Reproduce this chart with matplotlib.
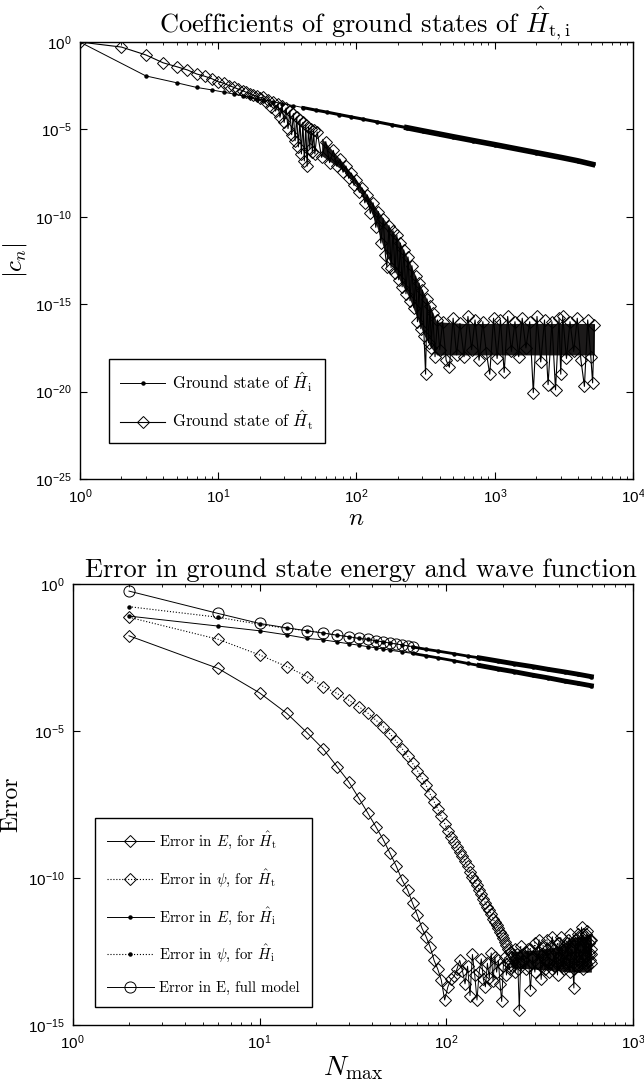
import numpy as np
import matplotlib
matplotlib.use("Agg")
import matplotlib.pyplot as plt
from matplotlib.ticker import LogLocator, NullLocator

plt.rcParams['font.family'] = 'sans-serif'
plt.rcParams['font.sans-serif'] = ['Liberation Sans', 'DejaVu Sans']
plt.rcParams['mathtext.fontset'] = 'cm'

# ---------------- top panel: coefficients |c_n| (log10 values) ----------------
hi_n = [1, 3, 5, 7, 9, 11, 13, 15, 17, 19, 21, 25, 29, 35, 41, 51, 61, 75, 91, 111, 141, 181,
        231, 301, 401, 501, 701, 1001, 1501, 2001, 3001, 4001, 5101]
hi_logc = [0.0, -1.94, -2.33, -2.6, -2.74, -2.87, -2.98, -3.08, -3.16, -3.24, -3.30, -3.42, -3.52,
           -3.64, -3.75, -3.90, -4.01, -4.15, -4.28, -4.41, -4.57, -4.74, -4.90, -5.08, -5.27,
           -5.42, -5.64, -5.87, -6.14, -6.33, -6.60, -6.80, -7.0]

# H_t coefficients: smooth head, alternating band, noise floor
ht_head_n = list(range(1, 51))
ht_head_logc = [0.0, -0.29, -0.74, -1.19, -1.41, -1.6, -1.83, -1.96, -2.1, -2.27,
                -2.36, -2.5, -2.59, -2.7, -2.78, -2.88, -2.95, -3.05, -3.1, -3.2,
                -3.15, -3.45, -3.3, -3.7, -3.45, -3.95, -3.55, -4.3, -3.68, -4.6,
                -3.78, -4.95, -3.95, -5.3, -4.1, -5.65, -4.3, -6.0, -4.45, -6.4,
                -4.6, -6.8, -4.72, -7.1, -4.85, -6.1, -4.95, -6.3, -5.05, -6.4]
ht_band_n = [52, 56, 60, 64, 68, 72, 76, 80, 84, 88, 92, 96, 100,
             105, 110, 115, 120, 126, 132, 138, 144, 150, 156, 162, 166,
             172, 178, 184, 190, 196, 202, 208, 214, 220, 228, 236, 244, 252, 260, 268, 276,
             284, 292, 300, 308, 316, 324, 332, 340, 348, 356]
ht_band_logc = [-5.15, -6.6, -5.7, -6.9, -6.2, -7.1, -6.7, -7.45, -7.1, -7.8, -7.5, -8.2, -7.9,
                -8.6, -8.35, -9.2, -8.75, -9.8, -9.2, -10.6, -9.7, -11.5, -10.1, -12.2, -12.86,
                -10.5, -12.9, -10.8, -13.2, -11.05, -13.6, -11.5, -14.0, -11.9, -14.4, -12.3, -14.8, -12.8, -15.2, -13.4, -16.0,
                -13.8, -16.4, -14.2, -16.8, -19.0, -14.7, -17.2, -15.1, -17.5, -15.5]
ht_floor_n = [370, 385, 400, 420, 445, 470, 500, 530, 560, 600, 640, 680,
              720, 770, 820, 870, 920, 980, 1040, 1100, 1170, 1240, 1320, 1400,
              1490, 1580, 1680, 1790, 1900, 2020, 2150, 2290, 2430, 2590, 2750, 2920,
              3000, 3100, 3300, 3500, 3720, 3950, 4200, 4450, 4700, 4950, 5100, 5250]
ht_floor_logc = [-18.0, -15.9, -17.6, -16.0, -18.2, -18.6, -15.8, -17.9, -16.1, -18.0, -15.7, -17.6,
                 -15.9, -18.2, -16.0, -17.8, -19.0, -15.8, -18.1, -15.9, -18.9, -15.7, -17.7, -16.0,
                 -18.0, -15.8, -17.5, -16.0, -20.06, -15.7, -18.3, -15.9, -19.6, -16.0, -19.9, -15.8,
                 -19.0, -15.7, -18.1, -16.0, -17.7, -15.8, -18.2, -19.7, -15.9, -18.0, -19.5, -16.2]

# outer edges of the dense black part of the H_t curve
ht_edge_n = [56, 80, 100, 126, 141, 160, 198, 240, 275, 305, 340, 380, 600, 1000, 2000, 3000, 5250]
ht_edge_top = [-5.5, -6.9, -7.9, -9.0, -9.6, -10.2, -11.2, -12.5, -13.6, -14.3, -15.1, -16.0,
               -16.1, -16.1, -16.1, -16.1, -16.1]
ht_edge_bottom = [-6.5, -7.35, -8.2, -9.6, -10.6, -12.0, -13.4, -14.6, -15.8, -16.7, -17.4, -17.9,
                  -17.9, -17.9, -17.9, -17.9, -17.9]

# ---------------- bottom panel: errors vs N_max (log10 values) ----------------
nmax_i = [2, 6, 10, 14, 18, 22, 26, 30, 34, 38, 42, 46, 50, 58, 66, 78, 90, 110, 130, 150, 190,
          230, 290, 350, 430, 510, 598]
err_e_hi = [-1.09, -1.43, -1.59, -1.73, -1.85, -1.9, -1.97, -2.03, -2.08, -2.13, -2.17, -2.21,
            -2.25, -2.31, -2.36, -2.44, -2.51, -2.61, -2.70, -2.77, -2.89, -2.98, -3.10, -3.19,
            -3.30, -3.38, -3.46]
err_psi_hi = [-0.77, -1.13, -1.37, -1.51, -1.59, -1.66, -1.74, -1.79, -1.85, -1.88, -1.93, -1.97,
              -2.0, -2.07, -2.14, -2.22, -2.28, -2.37, -2.45, -2.51, -2.62, -2.71, -2.81, -2.90,
              -2.99, -3.07, -3.15]

nmax_full = [2, 6, 10, 14, 18, 22, 26, 30, 34, 38, 42, 46, 50, 54, 58, 62, 66]
err_full = [-0.24, -1.0, -1.34, -1.49, -1.59, -1.67, -1.74, -1.79, -1.85, -1.88, -1.93, -1.97,
            -2.01, -2.04, -2.07, -2.1, -2.13]

nmax_e_ht = [2, 6, 10, 14, 18, 22, 26, 30, 34, 38, 42, 46, 50, 54, 58, 62, 66, 70, 74, 78, 82,
             86, 90, 94, 98, 102, 106, 110, 114, 118, 122, 126, 130, 134, 138, 142, 146, 150,
             154, 158, 162, 166, 170, 174, 178, 182, 186, 190, 194, 198, 202, 206, 210, 214,
             218, 222, 226, 230, 234, 238, 242, 246, 250, 258, 266, 274, 282, 290, 298, 306,
             314, 322, 330, 338, 346, 354, 362, 370, 378, 386, 394, 402, 410, 418, 426, 434,
             442, 450, 458, 466, 474, 482, 490, 498, 506, 514, 522, 530, 538, 546, 554, 562,
             570, 578, 586, 594, 598]
err_e_ht = [-1.76, -2.87, -3.7, -4.4, -5.06, -5.62, -6.21, -6.72, -7.28, -7.79, -8.26, -8.7,
            -9.16, -9.6, -10.07, -10.4, -10.86, -11.26, -11.7, -12.0, -12.35,
            -12.8, -13.1, -13.47, -14.15, -13.7, -13.45, -13.35, -13.1, -12.8, -13.15, -13.6,
            -13.0, -14.0, -12.6, -13.3, -14.15, -13.2, -12.75, -13.45, -13.7, -12.9, -13.4,
            -12.55, -13.5, -12.7, -13.2, -12.8, -13.6, -14.2, -13.0, -12.7, -13.3, -12.9,
            -13.1, -12.7, -13.0, -12.8, -13.2, -12.6, -13.1, -14.5, -12.9, -12.6, -13.1, -12.4,
            -13.8, -12.7, -13.2, -12.5, -12.1, -13.45, -12.6, -13.1, -12.4, -13.2, -12.3, -12.0,
            -13.0, -12.5, -13.3, -12.2, -12.9, -12.4, -13.1, -12.3, -12.9, -12.1, -13.2, -12.4,
            -12.9, -13.74, -12.2, -13.0, -11.9, -12.8, -12.3, -11.67, -13.1, -12.0, -12.7,
            -11.9, -13.0, -12.2, -12.8, -12.1, -12.6]

nmax_psi_ht = [2, 6, 10, 14, 18, 22, 26, 30, 34, 38, 42, 46, 50, 54, 58, 62, 66, 70, 74, 78,
               82, 86, 90, 94, 98, 102, 106, 110, 114, 118, 122, 126, 130, 134, 138, 142, 146,
               150, 154, 158, 162, 166, 170, 174, 178, 182, 186, 190, 194, 198, 202, 206, 210,
               214, 218, 226, 234, 242, 250, 258, 266, 274, 282, 290, 298, 306, 314,
               322, 330, 338, 346, 354, 362, 370, 378, 386, 394, 402, 410, 418, 426, 434, 442,
               450, 458, 466, 474, 482, 490, 498, 506, 514, 522, 530, 538, 546, 554, 562, 570,
               578, 586, 594, 598]
err_psi_ht = [-1.13, -1.88, -2.41, -2.81, -3.15, -3.49, -3.72, -3.95, -4.17, -4.39, -4.63,
              -4.85, -5.1, -5.35, -5.6, -5.85, -6.1, -6.35, -6.6, -6.85, -7.15, -7.4, -7.65,
              -7.9, -8.15, -8.4, -8.6, -8.78, -8.95, -9.1, -9.25, -9.43, -9.6, -9.8, -9.97,
              -10.1, -10.25, -10.4, -10.55, -10.7, -10.85, -10.98, -11.1, -11.24, -11.38,
              -11.5, -11.6, -11.7, -11.82, -11.95, -12.05, -12.17, -12.28, -12.4, -12.5,
              -12.6, -12.4, -12.9, -12.3, -12.8,
              -12.5, -13.0, -12.4, -12.7, -12.2, -12.9, -12.5, -13.0, -12.3, -12.8, -12.1, -12.9,
              -12.6, -13.1, -12.4, -12.9, -12.2, -12.7, -12.0, -13.0, -12.5, -12.9, -12.2, -12.8,
              -11.9, -12.7, -12.3, -13.1, -12.1, -12.6, -12.0, -13.0, -12.4, -12.9, -11.9, -12.6,
              -12.2, -12.9, -11.8, -12.6, -12.1, -12.9, -12.4]

# edges of the dense black blob where both H_t errors stall
blob_n = [222, 300, 400, 450, 500, 598]
blob_top = [-12.5, -12.45, -12.35, -12.1, -12.0, -11.95]
blob_bottom = [-13.05, -13.1, -13.15, -13.2, -13.2, -13.2]

serif = 'cmr10'


def style_axes(ax, xmax, ymin):
    ax.set_xscale('log')
    ax.set_yscale('log')
    ax.set_xlim(1, xmax)
    ax.set_ylim(ymin, 1)
    ax.set_yticks([10.0 ** e for e in range(0, int(round(np.log10(ymin))) - 1, -5)])
    ax.yaxis.set_minor_locator(NullLocator())
    ax.xaxis.set_minor_locator(LogLocator(base=10, subs=np.arange(2, 10), numticks=30))
    ax.tick_params(which='both', direction='in', top=True, right=True, labelsize=11, pad=6)
    ax.tick_params(which='major', length=5, width=0.8)
    ax.tick_params(which='minor', length=2.5, width=0.6)
    for s in ax.spines.values():
        s.set_linewidth(1.0)


fig = plt.figure(figsize=(6.44, 10.88), dpi=100)

# top panel
ax1 = fig.add_axes([0.124, 0.5597, 0.859, 0.4017])
hi_c = 10.0 ** np.array(hi_logc)
ht_n = ht_head_n + ht_band_n + ht_floor_n
ht_c = 10.0 ** np.array(ht_head_logc + ht_band_logc + ht_floor_logc)
ax1.fill_between(ht_edge_n, 10.0 ** np.array(ht_edge_top), 10.0 ** np.array(ht_edge_bottom),
                 color='#1c1a1a', lw=0)
ax1.plot(hi_n, hi_c, '-', color='k', lw=0.7, marker='o', ms=2.2, label=r'Ground state of $\hat{H}_{\rm i}$')
ax1.plot(hi_n[14:], hi_c[14:], '-', color='k', lw=2.2)
ax1.plot(hi_n[22:], hi_c[22:], '-', color='k', lw=4.0)
ax1.plot(ht_n, ht_c, '-', color='k', lw=0.8, marker='D', ms=6.5, mfc='none', mec='k', mew=0.7,
         label=r'Ground state of $\hat{H}_{\rm t}$')
style_axes(ax1, 1e4, 1e-25)
ax1.set_title(r'Coefficients of ground states of $\hat{H}_{\rm t,i}$', fontfamily=serif,
              fontsize=19, pad=5, x=0.515)
ax1.set_ylabel(r'$|c_n|$', fontsize=18, labelpad=4)
ax1.set_xlabel(r'$n$', fontsize=18, labelpad=0)
leg1 = ax1.legend(loc='lower left', bbox_to_anchor=(0.052, 0.082), borderaxespad=0,
                  prop={'family': serif, 'size': 12}, handlelength=2.75, handletextpad=0.4,
                  labelspacing=0.9, borderpad=0.66, fancybox=False, edgecolor='k', framealpha=1)
leg1.get_frame().set_linewidth(1.0)

# bottom panel
ax2 = fig.add_axes([0.113, 0.0579, 0.870, 0.4053])
ax2.fill_between(blob_n, 10.0 ** np.array(blob_top), 10.0 ** np.array(blob_bottom),
                 color='#1c1a1a', lw=0)
ax2.plot(nmax_e_ht, 10.0 ** np.array(err_e_ht), '-', color='k', lw=0.7, marker='D', ms=6.5,
         mfc='none', mec='k', mew=0.7, label=r'Error in $E$, for $\hat{H}_{\rm t}$')
ax2.plot(nmax_psi_ht, 10.0 ** np.array(err_psi_ht), ':', color='k', lw=0.8, marker='D', ms=6.5,
         mfc='none', mec='k', mew=0.7, label=r'Error in $\psi$, for $\hat{H}_{\rm t}$')
e_hi = 10.0 ** np.array(err_e_hi)
psi_hi = 10.0 ** np.array(err_psi_hi)
ax2.plot(nmax_i, e_hi, '-', color='k', lw=0.7, marker='o', ms=2.2, label=r'Error in $E$, for $\hat{H}_{\rm i}$')
ax2.plot(nmax_i, psi_hi, ':', color='k', lw=0.8, marker='o', ms=2.2, label=r'Error in $\psi$, for $\hat{H}_{\rm i}$')
for y in (e_hi, psi_hi):
    ax2.plot(nmax_i[14:], y[14:], '-', color='k', lw=2.0)
    ax2.plot(nmax_i[19:], y[19:], '-', color='k', lw=3.5)
ax2.plot(nmax_full, 10.0 ** np.array(err_full), '-', color='k', lw=0.7, marker='o', ms=8,
         mfc='none', mec='k', mew=0.7, label='Error in E, full model')
style_axes(ax2, 1e3, 1e-15)
ax2.set_title('Error in ground state energy and wave function', fontfamily=serif, fontsize=19,
              pad=5, x=0.515)
ax2.set_ylabel('Error', fontfamily=serif, fontsize=17, labelpad=4)
ax2.set_xlabel(r'$N_{\rm max}$', fontsize=20, labelpad=2)
leg2 = ax2.legend(loc='lower left', bbox_to_anchor=(0.039, 0.041), borderaxespad=0,
                  prop={'family': serif, 'size': 10.7}, handlelength=3.2, handletextpad=0.35,
                  labelspacing=1.1, borderpad=0.8, fancybox=False, edgecolor='k', framealpha=1)
leg2.get_frame().set_linewidth(1.0)

fig.savefig('out.png', dpi=100)
